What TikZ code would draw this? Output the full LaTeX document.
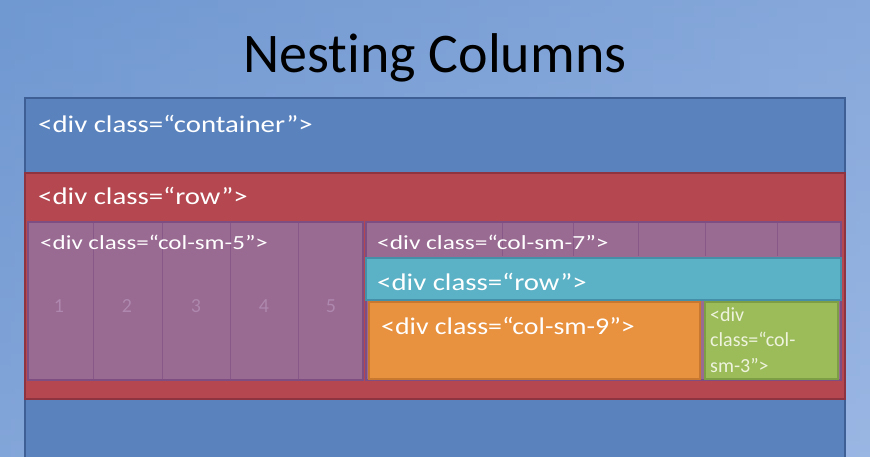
\documentclass[tikz,border=0pt]{standalone}
\usepackage{fontspec}
\setmainfont{Carlito}[Ligatures=NoCommon]
\definecolor{bgleft}{HTML}{7098D1}
\definecolor{bgright}{HTML}{9AB6E3}
\definecolor{contblue}{HTML}{5A83BE}
\definecolor{contedge}{HTML}{3E5F95}
\definecolor{rowred}{HTML}{B4474F}
\definecolor{rowedge}{HTML}{8E3340}
\definecolor{colpurple}{HTML}{996A92}
\definecolor{coledge}{HTML}{7E4E82}
\definecolor{numpurple}{HTML}{AE88AE}
\definecolor{rowcyan}{HTML}{5BB1C5}
\definecolor{cyanedge}{HTML}{4590A8}
\definecolor{colorange}{HTML}{E8913F}
\definecolor{orangeedge}{HTML}{C8782F}
\definecolor{colgreen}{HTML}{9CBC5A}
\definecolor{greenedge}{HTML}{7E9E45}
\definecolor{greentext}{HTML}{EEF3DD}
\newcommand{\widetext}[2]{\scalebox{#1}[1]{#2}}
\tikzset{
  box/.style={anchor=north west, inner sep=0pt, outer sep=0pt, line width=1.4pt},
  lbl/.style={anchor=base west, inner sep=0pt, text=white},
  biglbl/.style={lbl, font=\fontsize{24}{28}\selectfont},
  smalllbl/.style={lbl, font=\fontsize{20}{24}\selectfont},
  num/.style={anchor=base, inner sep=0pt, text=numpurple, font=\fontsize{20}{24}\selectfont},
  divider/.style={draw=coledge, line width=1pt, opacity=0.6}
}
\begin{document}
\begin{tikzpicture}[x=1pt,y=-1pt]
\useasboundingbox (0,0) rectangle (870,457);
\shade[left color=bgleft, right color=bgright] (0,0) rectangle (870,457);
\shade[top color=bgleft, bottom color=bgright, opacity=0.45] (0,0) rectangle (870,457);

% title
\node[anchor=base, inner sep=0pt, text=black, font=\fontsize{56}{60}\selectfont] (title) at (435,73) {Nesting Columns};

% outer container
\node[box, draw=contedge, fill=contblue, minimum width=820pt, minimum height=370pt] (container) at (25,98) {};
\node[biglbl] (containerlbl) at (38,133) {\widetext{1.2}{<div class=“container”>}};

% outer row
\node[box, draw=rowedge, fill=rowred, minimum width=820pt, minimum height=226pt] (row) at (25,173) {};
\node[biglbl] (rowlbl) at (38,205) {\widetext{1.2}{<div class=“row”>}};

% col-sm-5 with its five grid columns
\node[box, draw=coledge, fill=colpurple, minimum width=335pt, minimum height=158pt] (colfive) at (28,222) {};
\foreach \x in {93,162,230,298}
  \draw[divider] (\x,223) -- (\x,379);
\node[num] (n1) at (59,312) {1};
\node[num] (n2) at (127,312) {2};
\node[num] (n3) at (196,312) {3};
\node[num] (n4) at (264,312) {4};
\node[num] (n5) at (331,312) {5};
\node[smalllbl] (colfivelbl) at (40,250) {\widetext{1.25}{<div class=“col-sm-5”>}};

% col-sm-7
\node[box, draw=coledge, fill=colpurple, minimum width=475pt, minimum height=158pt] (colseven) at (366,222) {};
\foreach \x in {502,573,638,705,777}
  \draw[divider] (\x,223) -- (\x,256);
\node[smalllbl] (colsevenlbl) at (377,249) {\widetext{1.27}{<div class=“col-sm-7”>}};

% nested row
\node[box, draw=cyanedge, fill=rowcyan, minimum width=475pt, minimum height=42pt] (nestrow) at (366,258) {};
\node[biglbl] (nestrowlbl) at (377,290) {\widetext{1.2}{<div class=“row”>}};

% nested col-sm-9
\node[box, draw=orangeedge, fill=colorange, minimum width=331pt, minimum height=77pt] (colnine) at (369,302) {};
\node[biglbl] (colninelbl) at (381,334) {\widetext{1.16}{<div class=“col-sm-9”>}};

% nested col-sm-3
\node[box, draw=greenedge, fill=colgreen, minimum width=133pt, minimum height=77pt] (colthree) at (705,302) {};
\node[inner sep=0pt, text=greentext, anchor=north west, font=\fontsize{20}{25.5}\selectfont, align=left] (colthreelbl) at (710,307)
  {<div\\class=“col-\\sm-3”>};
\end{tikzpicture}
\end{document}
